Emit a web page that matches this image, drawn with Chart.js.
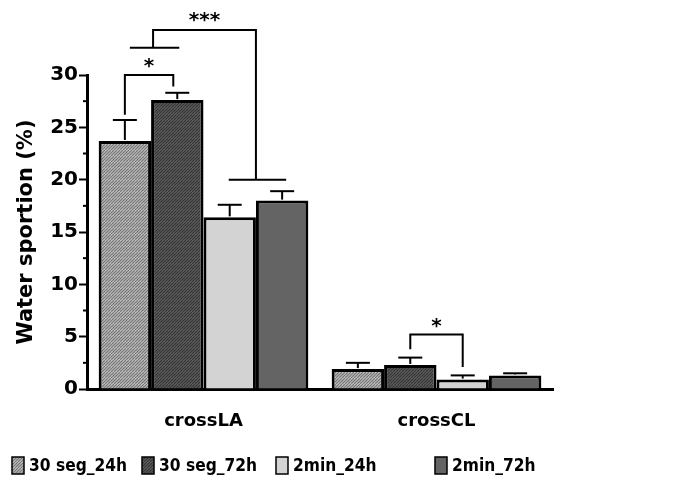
<!DOCTYPE html>
<html>
<head>
<meta charset="utf-8">
<script src="https://cdn.jsdelivr.net/npm/chart.js@4.4.1/dist/chart.umd.min.js"></script>
<style>
  html, body { margin: 0; padding: 0; background: #ffffff; }
  #wrap { width: 678px; height: 492px; }
</style>
</head>
<body>
<div id="wrap"><canvas id="c" width="678" height="492"></canvas></div>
<script>
// ---- data ----
const categories = ['crossLA', 'crossCL'];
const seriesLabels = ['30 seg_24h', '30 seg_72h', '2min_24h', '2min_72h'];
const seg30_24h = [23.7, 1.9];
const seg30_72h = [27.6, 2.3];
const min2_24h = [16.4, 0.9];
const min2_72h = [18.0, 1.3];
const seg30_24hErr = [2.0, 0.6];
const seg30_72hErr = [0.7, 0.7];
const min2_24hErr = [1.2, 0.4];
const min2_72hErr = [0.9, 0.2];
const yTickValues = [0, 5, 10, 15, 20, 25, 30];
const yMinorTicks = [2.5, 7.5, 12.5, 17.5, 22.5, 27.5];
const yTitle = 'Water sportion (%)';

const FONT = 'DejaVu Sans';

function hatch(bg, line) {
  const c = document.createElement('canvas');
  c.width = 6; c.height = 6;
  const x = c.getContext('2d');
  x.fillStyle = bg; x.fillRect(0, 0, 6, 6);
  x.strokeStyle = line; x.lineWidth = 1.3;
  for (let k = -6; k <= 12; k += 3) {
    x.beginPath(); x.moveTo(k, 6); x.lineTo(k + 6, 0); x.stroke();
  }
  return x.createPattern(c, 'repeat');
}
const fills = [
  hatch('#d4d4d4', '#767676'),
  hatch('#6a6a6a', '#363636'),
  '#d3d3d3',
  '#646464'
];
const seriesValues = [seg30_24h, seg30_72h, min2_24h, min2_72h];
const seriesErrs = [seg30_24hErr, seg30_72hErr, min2_24hErr, min2_72hErr];

const datasets = seriesLabels.map((lab, i) => ({
  label: lab,
  data: seriesValues[i],
  errs: seriesErrs[i],
  backgroundColor: fills[i],
  borderColor: '#000',
  borderWidth: 3,
  borderSkipped: 'start',
  barPercentage: 1.0,
  categoryPercentage: 0.9
}));

const extras = {
  id: 'extras',
  afterDatasetsDraw(chart) {
    const c = chart.ctx;
    const ys = chart.scales.y;
    c.save();
    c.strokeStyle = '#000';
    chart.data.datasets.forEach((ds, di) => {
      const meta = chart.getDatasetMeta(di);
      meta.data.forEach((bar, j) => {
        const v = ds.data[j], e = ds.errs[j];
        const y0 = ys.getPixelForValue(v);
        const y1 = ys.getPixelForValue(v + e);
        c.lineWidth = 2;
        c.beginPath(); c.moveTo(bar.x, y0 - 1); c.lineTo(bar.x, y1); c.stroke();
        c.beginPath(); c.moveTo(bar.x - 12, y1); c.lineTo(bar.x + 12, y1); c.stroke();
      });
    });
    c.restore();
  },
  afterDraw(chart) {
    const c = chart.ctx;
    const ys = chart.scales.y;
    const area = chart.chartArea;
    const Y = v => ys.getPixelForValue(v);
    const bx = (di, j) => chart.getDatasetMeta(di).data[j].x;
    c.save();
    c.strokeStyle = '#000';
    c.fillStyle = '#000';
    c.lineWidth = 2;
    yMinorTicks.forEach(v => {
      const y = Y(v);
      c.beginPath(); c.moveTo(area.left - 4, y); c.lineTo(area.left, y); c.stroke();
    });
    const path = pts => { c.beginPath(); c.moveTo(pts[0][0], pts[0][1]); for (let i = 1; i < pts.length; i++) c.lineTo(pts[i][0], pts[i][1]); c.stroke(); };
    c.font = 'bold 20px ' + FONT;
    c.textAlign = 'center';
    c.textBaseline = 'middle';
    // * bracket crossLA bar1 vs bar2
    const a1 = bx(0, 0), a2 = bx(1, 0) - 4;
    path([[a1, Y(26.2)], [a1, Y(30)], [a2, Y(30)], [a2, Y(28.9)]]);
    c.fillText('*', (a1 + a2) / 2, Y(30) - 8);
    // *** group bracket
    const g1l = bx(0, 0) + 5, g1r = bx(1, 0) + 2;
    const g1m = (bx(0, 0) + bx(1, 0)) / 2 + 2;
    const g2l = bx(2, 0) - 1, g2r = bx(3, 0) + 4;
    const g2m = (bx(2, 0) + bx(3, 0)) / 2;
    path([[g1l, Y(32.6)], [g1r, Y(32.6)]]);
    path([[g1m, Y(32.6)], [g1m, Y(34.3)], [g2m, Y(34.3)], [g2m, Y(20.0)]]);
    path([[g2l, Y(20.0)], [g2r, Y(20.0)]]);
    c.fillText('***', (g1m + g2m) / 2, Y(34.3) - 9);
    // * bracket crossCL bar2 vs bar3
    const b1 = bx(1, 1), b2 = bx(2, 1);
    path([[b1, Y(3.8)], [b1, Y(5.2)], [b2, Y(5.2)], [b2, Y(2.1)]]);
    c.fillText('*', (b1 + b2) / 2, Y(5.2) - 8);
    // legend
    const lx = [12, 142, 276, 435];
    c.font = 'bold 18px ' + FONT;
    c.textAlign = 'left';
    c.textBaseline = 'middle';
    chart.data.datasets.forEach((ds, i) => {
      const x = lx[i], y = 457;
      c.fillStyle = ds.backgroundColor;
      c.fillRect(x, y, 12, 17);
      c.lineWidth = 1.5;
      c.strokeStyle = '#000';
      c.strokeRect(x, y, 12, 17);
      c.fillStyle = '#000';
      c.save();
      c.translate(x + 17, y + 9);
      c.scale(0.86, 1.02);
      c.fillText(ds.label, 0, 0);
      c.restore();
    });
    c.restore();
  }
};

new Chart(document.getElementById('c'), {
  type: 'bar',
  data: { labels: categories, datasets: datasets },
  options: {
    responsive: false,
    devicePixelRatio: 1,
    animation: false,
    layout: { padding: { top: 75, right: 125, left: 0, bottom: 0 } },
    plugins: { legend: { display: false }, tooltip: { enabled: false } },
    scales: {
      x: {
        grid: { display: false, drawTicks: false },
        border: { display: true, color: '#000', width: 3 },
        ticks: { color: '#000', font: { family: FONT, size: 18, weight: 'bold' }, padding: 22 },
        afterFit(s) { s.height = 103; }
      },
      y: {
        min: 0, max: 30,
        afterBuildTicks(s) { s.ticks = yTickValues.map(v => ({ value: v })); },
        grid: { display: true, drawOnChartArea: false, drawTicks: true, tickLength: 8, tickWidth: 2, tickColor: '#000' },
        border: { display: true, color: '#000', width: 3 },
        ticks: { color: '#000', font: { family: FONT, size: 20, weight: 'bold' }, padding: 1 },
        title: { display: true, text: yTitle, color: '#000', font: { family: FONT, size: 21, weight: 'bold' }, padding: { top: 14, bottom: 0 } },
        afterFit(s) { s.width = 87; }
      }
    }
  },
  plugins: [extras]
});
</script>
</body>
</html>
